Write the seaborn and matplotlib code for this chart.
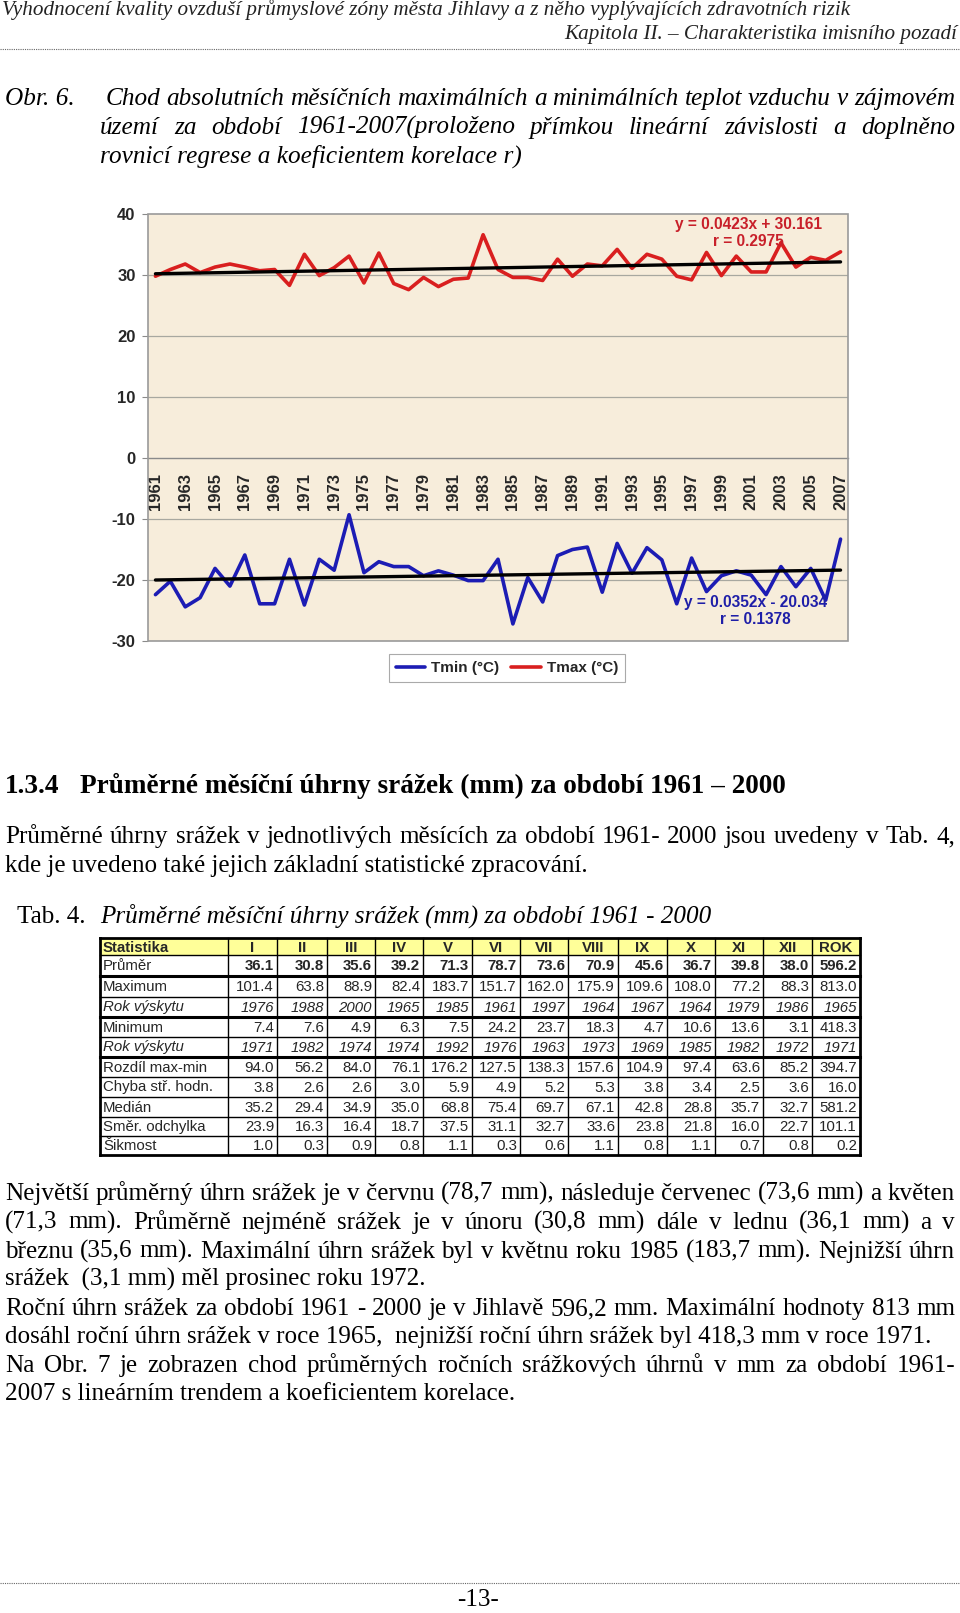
import matplotlib
matplotlib.use('Agg')
import matplotlib.pyplot as plt
import seaborn as sns
import numpy as np
import pandas as pd
from matplotlib.patches import Rectangle
from matplotlib.lines import Line2D

# ---------------- data ----------------
years = list(range(1961, 2008))
tmax = [29.8, 30.9, 31.8, 30.4, 31.3, 31.8, 31.3, 30.7, 30.9, 28.3,
        33.4, 29.9, 31.2, 33.1, 28.7, 33.6, 28.6, 27.6, 29.6, 28.1,
        29.3, 29.5, 36.6, 30.9, 29.6, 29.6, 29.1, 32.6, 29.8, 31.8,
        31.5, 34.2, 31.1, 33.4, 32.6, 29.8, 29.2, 33.7, 29.9, 33.1,
        30.5, 30.5, 35.3, 31.3, 32.9, 32.4, 33.8]
tmin = [-22.4, -20.2, -24.4, -22.9, -18.1, -21.0, -15.9, -23.9, -23.9, -16.6,
        -24.1, -16.6, -18.4, -9.3, -18.8, -17.0, -17.8, -17.8, -19.3, -18.5,
        -19.2, -20.1, -20.1, -16.6, -27.2, -19.6, -23.6, -16.0, -15.0, -14.6,
        -22.0, -14.0, -18.9, -14.7, -16.7, -23.9, -16.4, -21.9, -19.3, -18.5,
        -19.2, -22.4, -17.8, -21.1, -18.1, -23.3, -13.3]
trend_max = (0.0423, 30.161)
trend_min = (0.0352, -20.034)
eq_max = "y = 0.0423x + 30.161\nr = 0.2975"
eq_min = "y = 0.0352x - 20.034\nr = 0.1378"
yticks = [-30, -20, -10, 0, 10, 20, 30, 40]

tab_cols = ['I', 'II', 'III', 'IV', 'V', 'VI', 'VII', 'VIII', 'IX', 'X', 'XI', 'XII', 'ROK']
tab_rows = ['Průměr', 'Maximum', 'Rok výskytu', 'Minimum', 'Rok výskytu',
            'Rozdíl max-min', 'Chyba stř. hodn.', 'Medián', 'Směr. odchylka', 'Šikmost']
prumer = [36.1, 30.8, 35.6, 39.2, 71.3, 78.7, 73.6, 70.9, 45.6, 36.7, 39.8, 38.0, 596.2]
maximum = [101.4, 63.8, 88.9, 82.4, 183.7, 151.7, 162.0, 175.9, 109.6, 108.0, 77.2, 88.3, 813.0]
rok_max = [1976, 1988, 2000, 1965, 1985, 1961, 1997, 1964, 1967, 1964, 1979, 1986, 1965]
minimum = [7.4, 7.6, 4.9, 6.3, 7.5, 24.2, 23.7, 18.3, 4.7, 10.6, 13.6, 3.1, 418.3]
rok_min = [1971, 1982, 1974, 1974, 1992, 1976, 1963, 1973, 1969, 1985, 1982, 1972, 1971]
rozdil = [94.0, 56.2, 84.0, 76.1, 176.2, 127.5, 138.3, 157.6, 104.9, 97.4, 63.6, 85.2, 394.7]
chyba = [3.8, 2.6, 2.6, 3.0, 5.9, 4.9, 5.2, 5.3, 3.8, 3.4, 2.5, 3.6, 16.0]
median = [35.2, 29.4, 34.9, 35.0, 68.8, 75.4, 69.7, 67.1, 42.8, 28.8, 35.7, 32.7, 581.2]
smer = [23.9, 16.3, 16.4, 18.7, 37.5, 31.1, 32.7, 33.6, 23.8, 21.8, 16.0, 22.7, 101.1]
sikmost = [1.0, 0.3, 0.9, 0.8, 1.1, 0.3, 0.6, 1.1, 0.8, 1.1, 0.7, 0.8, 0.2]

header1 = "Vyhodnocení kvality ovzduší průmyslové zóny města Jihlavy a z něho vyplývajících zdravotních rizik"
header2 = "Kapitola II. – Charakteristika imisního pozadí"
caption = ["Chod absolutních měsíčních maximálních a minimálních teplot vzduchu v zájmovém",
           "území za období 1961-2007(proloženo přímkou lineární závislosti a doplněno",
           "rovnicí regrese a koeficientem korelace r)"]
heading_num = "1.3.4"
heading = "Průměrné měsíční úhrny srážek (mm) za období 1961 – 2000"
para1 = ["Průměrné úhrny srážek v jednotlivých měsících  za období 1961- 2000 jsou uvedeny v Tab. 4,",
         "kde je uvedeno také jejich základní statistické zpracování."]
tab_title = "Průměrné měsíční úhrny srážek (mm) za období 1961 - 2000"
para2 = ["Největší průměrný úhrn srážek je v červnu (78,7 mm), následuje červenec (73,6 mm) a květen",
         "(71,3 mm). Průměrně nejméně srážek je v únoru (30,8 mm) dále v lednu (36,1 mm) a v",
         "březnu (35,6 mm). Maximální úhrn srážek byl v květnu roku 1985 (183,7 mm). Nejnižší úhrn",
         "srážek  (3,1 mm) měl prosinec roku 1972.",
         "Roční úhrn srážek za období 1961 - 2000 je v Jihlavě 596,2 mm. Maximální hodnoty 813 mm",
         "dosáhl roční úhrn srážek v roce 1965,  nejnižší roční úhrn srážek byl 418,3 mm v roce 1971.",
         "Na Obr. 7 je zobrazen chod průměrných ročních srážkových úhrnů v mm za období 1961-",
         "2007 s lineárním trendem a koeficientem korelace."]
para2_just = [True, True, True, False, True, False, True, False]

# ---------------- figure ----------------
sns.set_theme(style='white')
plt.rcParams['font.family'] = ['Liberation Sans', 'DejaVu Sans']
W, H = 960, 1613
fig = plt.figure(figsize=(W / 100, H / 100), dpi=100)
fig.patch.set_facecolor('white')

def rect(l, t, r, b):
    return [l / W, 1 - b / H, (r - l) / W, (b - t) / H]

RED = '#d91f1f'
BLUE = '#1c1cb4'
FS_CH = 12

ax = fig.add_axes(rect(148, 214, 848, 641))
ax.set_facecolor('#f7eddb')
idx = np.arange(len(years))
df = pd.DataFrame({'i': idx, 'tmin': tmin, 'tmax': tmax})
sns.lineplot(data=df, x='i', y='tmax', color=RED, lw=2.6, ax=ax, zorder=3)
sns.lineplot(data=df, x='i', y='tmin', color=BLUE, lw=2.6, ax=ax, zorder=3)
xx = idx + 1
ax.plot(idx, trend_max[0] * xx + trend_max[1], color='black', lw=2.4, zorder=4)
ax.plot(idx, trend_min[0] * xx + trend_min[1], color='black', lw=2.4, zorder=4)
ax.set_xlim(-0.5, len(years) - 0.5)
ax.set_ylim(-30, 40)
for v in yticks:
    if v not in (0, 40, -30):
        ax.axhline(v, color='#a8a8a0', lw=0.9, zorder=1)
for s in ['top', 'left', 'right']:
    ax.spines[s].set_visible(False)
ax.spines['bottom'].set_position(('data', 0))
ax.spines['bottom'].set_color('#8a8a8a')
ax.spines['bottom'].set_linewidth(1.0)
ax.add_patch(Rectangle((0, 0), 1, 1, transform=ax.transAxes, fill=False,
                       edgecolor='#9a9a9a', lw=1.2, clip_on=False, zorder=5))
ax.set_yticks(yticks)
ax.set_yticklabels([str(v) for v in yticks], fontweight='bold', fontsize=FS_CH)
ax.tick_params(axis='y', left=True, length=4, width=0.8, color='#8a8a8a', pad=5)
ax.set_xticks(np.arange(-0.5, len(years), 1.0))
ax.set_xticklabels([])
ax.tick_params(axis='x', which='major', direction='inout', length=5, width=0.8, color='#8a8a8a')
ax.set_xticks(idx[::2], minor=True)
ax.set_xticklabels([str(y) for y in years[::2]], minor=True, rotation=90,
                   fontweight='bold', fontsize=FS_CH)
ax.tick_params(axis='x', which='minor', length=0, pad=11)
ax.set_xlabel('')
ax.set_ylabel('')
ax.grid(False)
ax.text(39.8, 36.9, eq_max, color='#c8202a', fontweight='bold', fontsize=11.2,
        ha='center', va='center', multialignment='center', linespacing=1.2, zorder=6)
ax.text(40.3, -25.1, eq_min, color='#1f1fa8', fontweight='bold', fontsize=11.2,
        ha='center', va='center', multialignment='center', linespacing=1.2, zorder=6)

handles = [Line2D([], [], color=BLUE, lw=2.6), Line2D([], [], color=RED, lw=2.6)]
leg = fig.legend(handles, ['Tmin (°C)', 'Tmax (°C)'], loc='center',
                 bbox_to_anchor=(507 / W, 1 - 668 / H), ncol=2, frameon=True,
                 fancybox=False, edgecolor='#aaaaaa', framealpha=1,
                 prop={'weight': 'bold', 'size': 11}, handlelength=1.9,
                 columnspacing=0.8, handletextpad=0.4, borderpad=0.45)
leg.get_frame().set_linewidth(0.8)

# ---------------- page text overlay ----------------
ax0 = fig.add_axes([0, 0, 1, 1])
ax0.set_xlim(0, W)
ax0.set_ylim(H, 0)
ax0.axis('off')
renderer = fig.canvas.get_renderer()

SERIF = ['Liberation Serif', 'DejaVu Serif']

def twidth(s, **kw):
    t = ax0.text(0, 0, s, **kw)
    w = t.get_window_extent(renderer).width
    t.remove()
    return w

def fit(s, target, **kw):
    base = 20.0
    return base * target / twidth(s, fontsize=base, **kw)

def justify(line, x0, x1, y, **kw):
    words = line.split()
    ws = [twidth(w, **kw) for w in words]
    gap = (x1 - x0 - sum(ws)) / max(len(words) - 1, 1)
    x = x0
    for w, wd in zip(words, ws):
        ax0.text(x, y, w, ha='left', va='baseline', **kw)
        x += wd + gap

# header
hkw = dict(family=SERIF, style='italic', color='#222222')
fs_h = fit(header1, 848, **hkw)
ax0.text(2, 15, header1, fontsize=fs_h, ha='left', va='baseline', **hkw)
ax0.text(957, 39, header2, fontsize=fs_h, ha='right', va='baseline', **hkw)
ax0.plot([0, W], [49, 49], color='#666666', lw=0.8, ls=(0, (1, 1)))

# caption
ckw = dict(family=SERIF, style='italic', color='black')
fs_c = fit(caption[2], 422, **ckw)
ax0.text(5, 105, "Obr. 6.", fontsize=fs_c, ha='left', va='baseline', **ckw)
justify(caption[0], 106, 955, 105, fontsize=fs_c, **ckw)
justify(caption[1], 100, 955, 134, fontsize=fs_c, **ckw)
ax0.text(100, 163, caption[2], fontsize=fs_c, ha='left', va='baseline', **ckw)

# heading
hdkw = dict(family=SERIF, weight='bold', color='black')
fs_hd = fit(heading, 787 - 80, **hdkw)
ax0.text(5, 793, heading_num, fontsize=fs_hd, ha='left', va='baseline', **hdkw)
ax0.text(80, 793, heading, fontsize=fs_hd, ha='left', va='baseline', **hdkw)

# body
bkw = dict(family=SERIF, color='black')
fs_b = fit(para1[1], 585, **bkw)
justify(para1[0], 5, 955, 843, fontsize=fs_b, **bkw)
ax0.text(5, 872, para1[1], fontsize=fs_b, ha='left', va='baseline', **bkw)

# table title
tkw = dict(family=SERIF, color='black')
fs_t = fit(tab_title, 610, style='italic', **tkw)
ax0.text(17, 923, "Tab. 4.", fontsize=fs_t, ha='left', va='baseline', **tkw)
ax0.text(100, 923, tab_title, fontsize=fs_t, style='italic', ha='left', va='baseline', **tkw)

# table
col_edges = [100, 228, 277, 327, 375, 423, 472, 520, 568, 618, 667, 715, 763, 812, 860]
row_edges = [938, 955, 976, 996.5, 1016.5, 1036.5, 1056.5, 1076.5, 1096.5, 1116.5, 1136, 1155]
ax0.add_patch(Rectangle((col_edges[0], row_edges[0]), col_edges[-1] - col_edges[0],
                        row_edges[1] - row_edges[0], facecolor='#ffff99', edgecolor='none'))
table_vals = [prumer, maximum, rok_max, minimum, rok_min, rozdil, chyba, median, smer, sikmost]
FS_TAB = 10.8
ymid = (row_edges[0] + row_edges[1]) / 2
ax0.text(col_edges[0] + 3, ymid + 1, 'Statistika', fontsize=FS_TAB, weight='bold',
         ha='left', va='center')
for j, c in enumerate(tab_cols):
    ax0.text((col_edges[j + 1] + col_edges[j + 2]) / 2, ymid + 1, c, fontsize=FS_TAB,
             weight='bold', ha='center', va='center')
for r, (name, vals) in enumerate(zip(tab_rows, table_vals)):
    ym = (row_edges[r + 1] + row_edges[r + 2]) / 2 + 1
    kw = dict(fontsize=FS_TAB, va='center')
    if name == 'Průměr':
        vkw = dict(weight='bold')
    elif name == 'Rok výskytu':
        vkw = dict(style='italic')
    else:
        vkw = {}
    nkw = dict(style='italic') if name == 'Rok výskytu' else {}
    ax0.text(col_edges[0] + 3, ym, name, ha='left', **kw, **nkw)
    for j, v in enumerate(vals):
        s = str(v) if isinstance(v, int) else f"{v:.1f}"
        ax0.text(col_edges[j + 2] - 3, ym, s, ha='right', **kw, **vkw)
for k, y in enumerate(row_edges):
    lw = 1.0
    if k in (0, len(row_edges) - 1):
        lw = 2.0
    elif k in (2, 4, 6):
        lw = 2.2
    ax0.plot([col_edges[0], col_edges[-1]], [y, y], color='black', lw=lw, solid_capstyle='projecting')
for k, x in enumerate(col_edges):
    lw = 2.0 if k in (0, len(col_edges) - 1) else 1.0
    ax0.plot([x, x], [row_edges[0], row_edges[-1]], color='black', lw=lw, solid_capstyle='projecting')

# paragraph 2
ybase = [1200, 1229, 1258, 1286, 1315, 1343.5, 1372, 1400]
for line, just, yb in zip(para2, para2_just, ybase):
    if just:
        justify(line, 5, 955, yb, fontsize=fs_b, **bkw)
    else:
        ax0.text(5, yb, line, fontsize=fs_b, ha='left', va='baseline', **bkw)

# footer
ax0.plot([0, W], [1583, 1583], color='#666666', lw=0.8, ls=(0, (1, 1)))
ax0.text(478, 1606, "-13-", fontsize=fs_b, ha='center', va='baseline', **bkw)

fig.savefig('out.png', dpi=100, facecolor='white')
